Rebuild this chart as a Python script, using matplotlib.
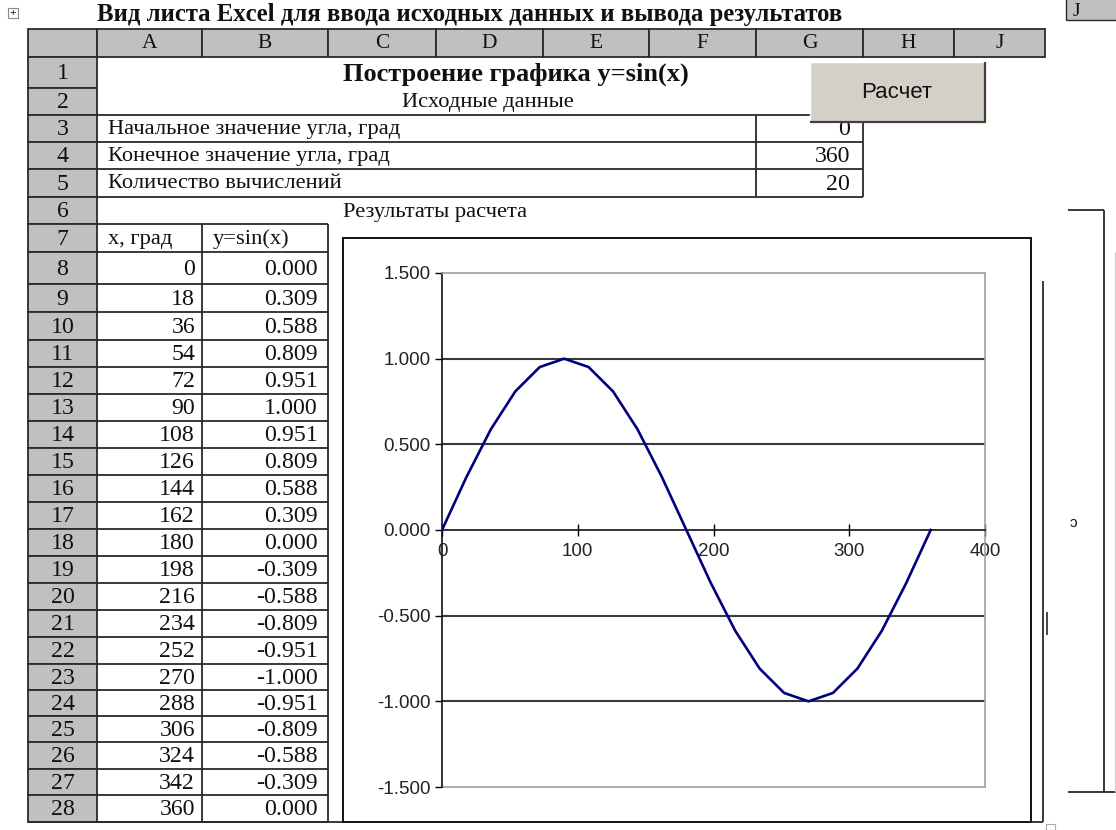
import numpy as np
import matplotlib.pyplot as plt
from matplotlib.patches import Rectangle
from matplotlib.ticker import FuncFormatter

# data from the sheet
col_letters = ["A", "B", "C", "D", "E", "F", "G", "H", "J"]
input_labels = ["Начальное значение угла, град",
                "Конечное значение угла, град",
                "Количество вычислений"]
input_values = [0, 360, 20]
x_deg = [0, 18, 36, 54, 72, 90, 108, 126, 144, 162, 180,
         198, 216, 234, 252, 270, 288, 306, 324, 342, 360]
y_sin = [0.000, 0.309, 0.588, 0.809, 0.951, 1.000, 0.951, 0.809, 0.588, 0.309, 0.000,
         -0.309, -0.588, -0.809, -0.951, -1.000, -0.951, -0.809, -0.588, -0.309, 0.000]
y_ticks = [-1.5, -1.0, -0.5, 0.0, 0.5, 1.0, 1.5]
x_ticks = [0, 100, 200, 300, 400]

W, H = 1116, 830
col_edges = [28, 97, 202, 328, 436, 543, 649, 756, 863, 954, 1045]
# row_edges[r-1] .. row_edges[r] is sheet row r
row_edges = [57, 88, 115, 142, 169, 197, 224, 252, 284, 312, 340, 367, 394, 421,
             448, 475, 502, 529, 556, 583, 610, 637, 664, 690, 716, 742, 769, 795, 822]
head_top = 29

SERIF = "Liberation Serif"
SANS = "Liberation Sans"
LC = "#2a2a2a"
GRAY = "#c0c0c0"
FS_TXT = 16.2
FS_NUM = 17.2

fig = plt.figure(figsize=(W / 100, H / 100), dpi=100)
bg = fig.add_axes([0, 0, 1, 1])
bg.set_xlim(0, W)
bg.set_ylim(H, 0)
bg.axis("off")


def hl(y, x0, x1, lw=1.3, c=LC, z=2):
    bg.plot([x0, x1], [y, y], color=c, lw=lw, zorder=z, solid_capstyle="butt")


def vl(x, y0, y1, lw=1.3, c=LC, z=2):
    bg.plot([x, x], [y0, y1], color=c, lw=lw, zorder=z, solid_capstyle="butt")


def txt(x, y, s, ha="left", size=FS_TXT, weight="normal", family=SERIF, z=3):
    bg.text(x, y, s, ha=ha, va="center", fontsize=size, fontweight=weight,
            family=family, zorder=z, color="#111111")


def mid(r):
    return (row_edges[r - 1] + row_edges[r]) / 2 + 1


# title above sheet
txt(97, 15, "Вид листа Excel для ввода исходных данных и вывода результатов",
    size=17.8, weight="bold")
bg.add_patch(Rectangle((8, 8), 10, 10, fill=False, ec="#888888", lw=0.8))
txt(13, 13, "+", ha="center", size=8, family=SANS)

# column header row
for i in range(len(col_edges) - 1):
    bg.add_patch(Rectangle((col_edges[i], head_top), col_edges[i + 1] - col_edges[i],
                           row_edges[0] - head_top, fc=GRAY, ec=LC, lw=1.3, zorder=1))
    if i > 0:
        txt((col_edges[i] + col_edges[i + 1]) / 2, 44, col_letters[i - 1], ha="center", size=15.5)

# row numbers
for r in range(1, len(row_edges)):
    bg.add_patch(Rectangle((col_edges[0], row_edges[r - 1]), col_edges[1] - col_edges[0],
                           row_edges[r] - row_edges[r - 1], fc=GRAY, ec=LC, lw=1.3, zorder=1))
    txt((col_edges[0] + col_edges[1]) / 2, mid(r), str(r), ha="center", size=FS_NUM)

# rows 1-2
txt(516, 74, "Построение графика y=sin(x)", ha="center", size=19, weight="bold")
txt(488, 103, "Исходные данные", ha="center")

# input block rows 3-5
for r in range(2, 6):
    hl(row_edges[r], 97, 863)
vl(756, row_edges[2], row_edges[5])
vl(863, row_edges[2], row_edges[5])
for k, (lab, val) in enumerate(zip(input_labels, input_values)):
    txt(108, mid(3 + k), lab)
    txt(850, mid(3 + k), str(val), ha="right", size=FS_NUM)

# results
txt(343, 212, "Результаты расчета")
for r in range(6, len(row_edges)):
    hl(row_edges[r], 97, 328)
vl(202, row_edges[6], row_edges[-1])
vl(328, row_edges[6], row_edges[-1])
hl(822, 28, 343)
txt(108, mid(7), "x, град")
txt(213, mid(7), "y=sin(x)")
for k, (xv, yv) in enumerate(zip(x_deg, y_sin)):
    txt(195, mid(8 + k), str(xv), ha="right", size=FS_NUM)
    txt(318, mid(8 + k), f"{yv:.3f}", ha="right", size=FS_NUM)

# button
bg.add_patch(Rectangle((810, 62), 175, 60, fc="#d4d0c8", ec="none", zorder=5))
hl(62, 810, 985, lw=1.0, c="#ffffff", z=6)
vl(810, 62, 122, lw=1.0, c="#ffffff", z=6)
hl(122, 810, 986, lw=1.6, c="#404040", z=6)
vl(985, 62, 122, lw=1.6, c="#404040", z=6)
txt(897, 92, "Расчет", ha="center", size=16, family=SANS, z=7)

# chart frame and stray edges on the right
bg.add_patch(Rectangle((343, 238), 1031 - 343, 822 - 238, fill=False, ec="#111111", lw=1.4, zorder=2))
vl(1043, 281, 822)
hl(822, 1031, 1043)
bg.add_patch(Rectangle((1046, 824), 9, 8, fill=False, ec="#aaaaaa", lw=0.8))
vl(1047, 612, 635, lw=1.2)
hl(210, 1068, 1104)
vl(1104, 210, 792)
hl(792, 1068, 1116)
vl(1115, 252, 792, lw=0.8, c="#cccccc")
txt(1070, 523, "ↄ", size=11, family=SANS)
bg.add_patch(Rectangle((1066, -2), 60, 22, fc=GRAY, ec=LC, lw=1.0))
txt(1073, 11, "J", size=14)

# chart
x0, x1, y0, y1 = 442, 985, 273, 787
ax = fig.add_axes([x0 / W, 1 - y1 / H, (x1 - x0) / W, (y1 - y0) / H])
ax.set_xlim(0, 400)
ax.set_ylim(-1.5, 1.5)
for g in [-1.0, -0.5, 0.5, 1.0]:
    ax.axhline(g, color="#3a3a3a", lw=1.5, zorder=1)
ax.axhline(-1.5, color="#a0a0a0", lw=1.2, zorder=1, clip_on=False)
ax.plot(x_deg, y_sin, color="#000080", lw=1.9, zorder=3)
ax.spines["left"].set_position(("data", 0))
ax.spines["bottom"].set_position(("data", 0))
ax.spines["left"].set_color("#111111")
ax.spines["bottom"].set_color("#111111")
ax.spines["top"].set_color("#a0a0a0")
ax.spines["right"].set_color("#a0a0a0")
for s in ax.spines.values():
    s.set_linewidth(1.2)
ax.set_yticks(y_ticks)
ax.set_xticks(x_ticks)
ax.yaxis.set_major_formatter(FuncFormatter(lambda v, p: f"{v:.3f}"))
ax.tick_params(axis="y", direction="out", length=5, width=1, pad=3,
               labelsize=13.5, labelcolor="#222222")
ax.tick_params(axis="x", direction="inout", length=8, width=1, pad=5,
               labelsize=13.5, labelcolor="#222222")
for lab in ax.get_xticklabels() + ax.get_yticklabels():
    lab.set_family(SANS)

fig.savefig("out.png", dpi=100)
